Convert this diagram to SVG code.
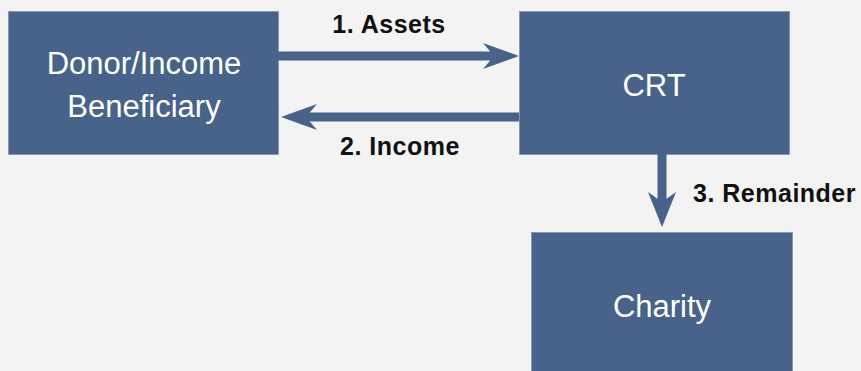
<svg xmlns="http://www.w3.org/2000/svg" width="861" height="371" viewBox="0 0 861 371">
<style>
.box{fill:#476389;stroke:#8497b3;stroke-width:1}
.nt{font-family:"Liberation Sans",Arial,sans-serif;font-size:31px;fill:#ffffff;text-anchor:middle}
.lbl{font-family:"Liberation Sans",Arial,sans-serif;font-size:25px;font-weight:bold;fill:#111111;letter-spacing:0.5px}
.ln{stroke:#476389;stroke-width:9;fill:none}
.hd{fill:#476389}
</style>
<rect width="861" height="371" fill="#f3f3f3"/>
<g id="donor">
<rect class="box" x="8.5" y="11.5" width="270" height="143"/>
<text class="nt" x="144" y="74">Donor/Income</text>
<text class="nt" x="144" y="117">Beneficiary</text>
</g>
<g id="crt">
<rect class="box" x="519.5" y="11.5" width="270" height="143"/>
<text class="nt" x="654" y="96">CRT</text>
</g>
<g id="charity">
<rect class="box" x="531.5" y="232.5" width="261" height="145"/>
<text class="nt" x="662" y="317">Charity</text>
</g>
<g id="connectors">
<line class="ln" x1="278" y1="56" x2="496" y2="56"/>
<polygon class="hd" points="519,56 483,43 494,56 483,69"/>
<line class="ln" x1="304" y1="117" x2="519" y2="117"/>
<polygon class="hd" points="281,117 317,104 306,117 317,130"/>
<line class="ln" x1="662" y1="154" x2="662" y2="204"/>
<polygon class="hd" points="662,227 648,192 662,202 676,192"/>
<text class="lbl" x="389" y="33" text-anchor="middle">1. Assets</text>
<text class="lbl" x="400" y="155" text-anchor="middle">2. Income</text>
<text class="lbl" x="693" y="202">3. Remainder</text>
</g>
</svg>
